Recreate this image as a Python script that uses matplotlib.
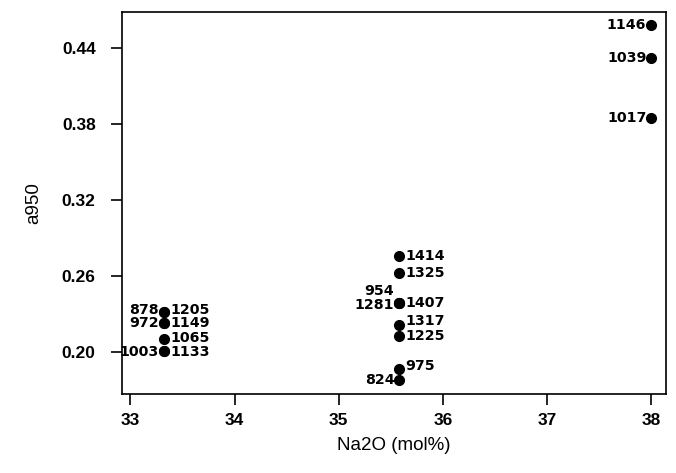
import matplotlib
matplotlib.use("Agg")
from matplotlib import pyplot as plt

# Na2O content (mol%), a950 values and sample ids
na2o = [33.32, 33.32, 33.32, 33.32, 33.32, 33.32, 33.32,
        35.58, 35.58, 35.58, 35.58, 35.58, 35.58, 35.58, 35.58, 35.58,
        38.0, 38.0, 38.0]
a950 = [0.2316, 0.2316, 0.2229, 0.2229, 0.2103, 0.2008, 0.2008,
        0.2758, 0.2624, 0.2390, 0.2385, 0.2385, 0.2213, 0.2126, 0.1866, 0.1780,
        0.4574, 0.4321, 0.3847]
ids = ['878', '1205', '972', '1149', '1065', '1003', '1133',
       '1414', '1325', '954', '1281', '1407', '1317', '1225', '975', '824',
       '1146', '1039', '1017']
# label side: l = left of the dot, r = right of the dot
side = ['l', 'r', 'l', 'r', 'r', 'l', 'r',
        'r', 'r', 'l', 'l', 'r', 'r', 'r', 'r', 'l',
        'l', 'l', 'l']
# small vertical nudges (points) for crowded labels
nudge = [1.5, 1.5, 0, 0, 0.5, -0.5, -0.5,
         0, 0, 8.5, -1.5, 0, 2.6, 0.4, 2, 0,
         0, 0, 0]

plt.rcParams['font.family'] = ['Liberation Sans', 'DejaVu Sans']

fig = plt.figure(figsize=(6.76, 4.73), dpi=100)
ax = fig.add_axes([0.1805, 0.167, 0.8045, 0.8076])

ax.plot(na2o, a950, 'o', color='black', markersize=7, linestyle='none')

for x, y, t, s, dy in zip(na2o, a950, ids, side, nudge):
    if s == 'r':
        ax.annotate(t, (x, y), xytext=(4.5, dy), textcoords='offset points',
                    ha='left', va='center', fontsize=10.2, fontweight='bold',
                    family='DejaVu Sans')
    else:
        ax.annotate(t, (x, y), xytext=(-3.5, dy), textcoords='offset points',
                    ha='right', va='center', fontsize=10.2, fontweight='bold',
                    family='DejaVu Sans')

ax.set_xlim(32.92, 38.14)
ax.set_ylim(0.167, 0.468)
ax.set_xticks([33, 34, 35, 36, 37, 38])
ax.set_yticks([0.20, 0.26, 0.32, 0.38, 0.44])
ax.set_yticklabels(['0.20', '0.26', '0.32', '0.38', '0.44'])
ax.tick_params(axis='both', direction='out', length=8, width=1.2,
               labelsize=12.5)
ax.tick_params(axis='x', pad=6)
ax.tick_params(axis='y', pad=11)
for lab in ax.get_xticklabels() + ax.get_yticklabels():
    lab.set_fontweight('bold')
for sp in ax.spines.values():
    sp.set_linewidth(1.2)

ax.set_xlabel('Na2O (mol%)', fontsize=13.5, labelpad=6)
ax.set_ylabel('a950', fontsize=13.5, labelpad=14)

fig.savefig('out.png', dpi=100)
